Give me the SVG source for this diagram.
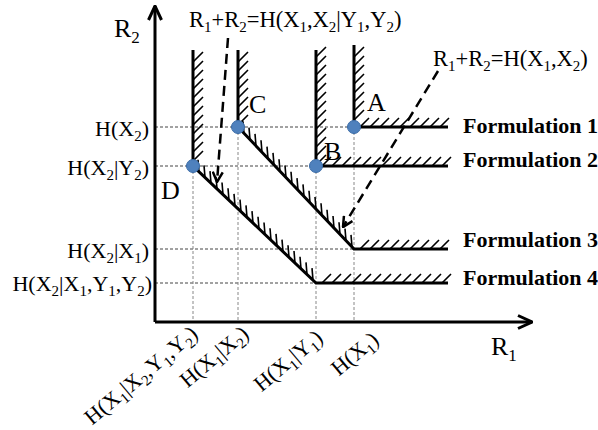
<svg xmlns="http://www.w3.org/2000/svg" width="598" height="430" viewBox="0 0 598 430">
<style>
text{font-family:"Liberation Serif","Times New Roman",serif;fill:#000}
.lab{font-size:22px}
.sum{font-size:22.5px}
.big{font-size:26px}
.f{font-size:22px;font-weight:bold}
.s{font-size:15px}
.bs{font-size:17px}
.bnd{fill:none;stroke:#000;stroke-width:3}
.hat{fill:none;stroke:#000;stroke-width:1.6}
.gh{fill:none;stroke:#444;stroke-width:1;stroke-dasharray:3,2}
.gv{fill:none;stroke:#888;stroke-width:1;stroke-dasharray:3,2}
.pt{fill:#4f81bd;stroke:#3a6ba6;stroke-width:1}
.da{fill:none;stroke:#000;stroke-width:2.5;stroke-dasharray:10,6}
.ax{fill:none;stroke:#000;stroke-width:3}
</style>
<defs>
<marker id="ah" viewBox="0 0 12 12" refX="11" refY="6" markerWidth="12" markerHeight="12" markerUnits="userSpaceOnUse" orient="auto"><path d="M1,1 L11,6 L1,11" fill="none" stroke="#000" stroke-width="2.5"/></marker>
<marker id="axh" viewBox="0 0 16 16" refX="15" refY="8" markerWidth="16" markerHeight="16" markerUnits="userSpaceOnUse" orient="auto"><path d="M1,1.5 L15,8 L1,14.5" fill="none" stroke="#000" stroke-width="3"/></marker>
</defs>
<g id="grid">
<path class="gh" d="M155,127H354M155,166H316M155,249H354M155,283H316"/>
<path class="gv" d="M193,166V322M238,127V322M316,166V322M354,127V322"/>
</g>
<g id="axes">
<path class="ax" d="M155,322V6" marker-end="url(#axh)"/>
<path class="ax" d="M155,322H532" marker-end="url(#axh)"/>
<text class="big" x="114" y="37">R<tspan class="bs" dy="6">2</tspan></text>
<text class="big" x="491" y="355">R<tspan class="bs" dy="6">1</tspan></text>
</g>
<g id="formulation1">
<path class="bnd" d="M354,45V127H448"/>
<path class="hat" d="M354,57l10,-10M354,66l10,-10M354,75l10,-10M354,84l10,-10M354,93l10,-10M354,102l10,-10M354,111l10,-10M354,120l10,-10M360,127l9,-9M370,127l9,-9M380,127l9,-9M390,127l9,-9M400,127l9,-9M410,127l9,-9M420,127l9,-9M430,127l9,-9M440,127l9,-9"/>
<text class="f" x="463" y="133">Formulation 1</text>
</g>
<g id="formulation2">
<path class="bnd" d="M316,50V166H448"/>
<path class="hat" d="M316,57l10,-10M316,66l10,-10M316,75l10,-10M316,84l10,-10M316,93l10,-10M316,102l10,-10M316,111l10,-10M316,120l10,-10M316,129l10,-10M316,138l10,-10M316,147l10,-10M316,156l10,-10M316,165l10,-10M322,166l9,-9M332,166l9,-9M342,166l9,-9M352,166l9,-9M362,166l9,-9M372,166l9,-9M382,166l9,-9M392,166l9,-9M402,166l9,-9M412,166l9,-9M422,166l9,-9M432,166l9,-9M442,166l9,-9"/>
<text class="f" x="463" y="167">Formulation 2</text>
</g>
<g id="formulation3">
<path class="bnd" d="M238,50V127L354,249H448"/>
<path class="hat" d="M238,62l10,-10M238,71l10,-10M238,80l10,-10M238,89l10,-10M238,98l10,-10M238,107l10,-10M238,116l10,-10M238,125l10,-10M244,133.3l-1,-12M250,139.6l-1,-12M256,145.9l-1,-12M262,152.2l-1,-12M268,158.6l-1,-12M274,164.9l-1,-12M280,171.2l-1,-12M286,177.5l-1,-12M292,183.8l-1,-12M298,190.1l-1,-12M304,196.4l-1,-12M310,202.7l-1,-12M316,209l-1,-12M322,215.3l-1,-12M328,221.7l-1,-12M334,228l-1,-12M340,234.3l-1,-12M346,240.6l-1,-12M352,246.9l-1,-12M360,249l9,-9M370,249l9,-9M380,249l9,-9M390,249l9,-9M400,249l9,-9M410,249l9,-9M420,249l9,-9M430,249l9,-9M440,249l9,-9"/>
<text class="f" x="463" y="247">Formulation 3</text>
</g>
<g id="formulation4">
<path class="bnd" d="M193,50V166L316,283H448"/>
<path class="hat" d="M193,62l10,-10M193,71l10,-10M193,80l10,-10M193,89l10,-10M193,98l10,-10M193,107l10,-10M193,116l10,-10M193,125l10,-10M193,134l10,-10M193,143l10,-10M193,152l10,-10M193,161l10,-10M199,171.7l-1,-12M205,177.4l-1,-12M211,183.1l-1,-12M217,188.8l-1,-12M223,194.5l-1,-12M229,200.2l-1,-12M235,205.9l-1,-12M241,211.6l-1,-12M247,217.4l-1,-12M253,223.1l-1,-12M259,228.8l-1,-12M265,234.5l-1,-12M271,240.2l-1,-12M277,245.9l-1,-12M283,251.6l-1,-12M289,257.3l-1,-12M295,263l-1,-12M301,268.7l-1,-12M307,274.4l-1,-12M313,280.1l-1,-12M322,283l9,-9M332,283l9,-9M342,283l9,-9M352,283l9,-9M362,283l9,-9M372,283l9,-9M382,283l9,-9M392,283l9,-9M402,283l9,-9M412,283l9,-9M422,283l9,-9M432,283l9,-9M442,283l9,-9"/>
<text class="f" x="463" y="285">Formulation 4</text>
</g>
<g id="connectors">
<path class="da" d="M228,38L217,182" marker-end="url(#ah)"/>
<path class="da" d="M438,71L343,227" marker-end="url(#ah)"/>
</g>
<g id="sumlabel1">
<text class="sum" x="189" y="27">R<tspan class="s" dy="5">1</tspan><tspan dy="-5">+R</tspan><tspan class="s" dy="5">2</tspan><tspan dy="-5">=H(X</tspan><tspan class="s" dy="5">1</tspan><tspan dy="-5">,X</tspan><tspan class="s" dy="5">2</tspan><tspan dy="-5">|Y</tspan><tspan class="s" dy="5">1</tspan><tspan dy="-5">,Y</tspan><tspan class="s" dy="5">2</tspan><tspan dy="-5">)</tspan></text>
</g>
<g id="sumlabel2">
<text class="sum" x="433" y="66">R<tspan class="s" dy="5">1</tspan><tspan dy="-5">+R</tspan><tspan class="s" dy="5">2</tspan><tspan dy="-5">=H(X</tspan><tspan class="s" dy="5">1</tspan><tspan dy="-5">,X</tspan><tspan class="s" dy="5">2</tspan><tspan dy="-5">)</tspan></text>
</g>
<g id="pointA"><circle class="pt" cx="354" cy="127" r="6.5"/><text class="big" x="367" y="111">A</text></g>
<g id="pointB"><circle class="pt" cx="316" cy="166" r="6.5"/><text class="big" x="324" y="160">B</text></g>
<g id="pointC"><circle class="pt" cx="238" cy="127" r="6.5"/><text class="big" x="249" y="113">C</text></g>
<g id="pointD"><circle class="pt" cx="193" cy="166" r="6.5"/><text class="big" x="161" y="199">D</text></g>
<g id="ylabels" text-anchor="end">
<text class="lab" x="149" y="136">H(X<tspan class="s" dy="5">2</tspan><tspan dy="-5">)</tspan></text>
<text class="lab" x="149" y="175">H(X<tspan class="s" dy="5">2</tspan><tspan dy="-5">|Y</tspan><tspan class="s" dy="5">2</tspan><tspan dy="-5">)</tspan></text>
<text class="lab" x="149" y="258">H(X<tspan class="s" dy="5">2</tspan><tspan dy="-5">|X</tspan><tspan class="s" dy="5">1</tspan><tspan dy="-5">)</tspan></text>
<text class="lab" x="152" y="291">H(X<tspan class="s" dy="5">2</tspan><tspan dy="-5">|X</tspan><tspan class="s" dy="5">1</tspan><tspan dy="-5">,Y</tspan><tspan class="s" dy="5">1</tspan><tspan dy="-5">,Y</tspan><tspan class="s" dy="5">2</tspan><tspan dy="-5">)</tspan></text>
</g>
<g id="xlabels" text-anchor="end">
<text class="lab" transform="translate(199,336) rotate(-40)">H(X<tspan class="s" dy="5">1</tspan><tspan dy="-5">|X</tspan><tspan class="s" dy="5">2</tspan><tspan dy="-5">,Y</tspan><tspan class="s" dy="5">1</tspan><tspan dy="-5">,Y</tspan><tspan class="s" dy="5">2</tspan><tspan dy="-5">)</tspan></text>
<text class="lab" transform="translate(250,336) rotate(-40)">H(X<tspan class="s" dy="5">1</tspan><tspan dy="-5">|X</tspan><tspan class="s" dy="5">2</tspan><tspan dy="-5">)</tspan></text>
<text class="lab" transform="translate(324,340) rotate(-40)">H(X<tspan class="s" dy="5">1</tspan><tspan dy="-5">|Y</tspan><tspan class="s" dy="5">1</tspan><tspan dy="-5">)</tspan></text>
<text class="lab" transform="translate(380,342) rotate(-40)">H(X<tspan class="s" dy="5">1</tspan><tspan dy="-5">)</tspan></text>
</g>
</svg>
